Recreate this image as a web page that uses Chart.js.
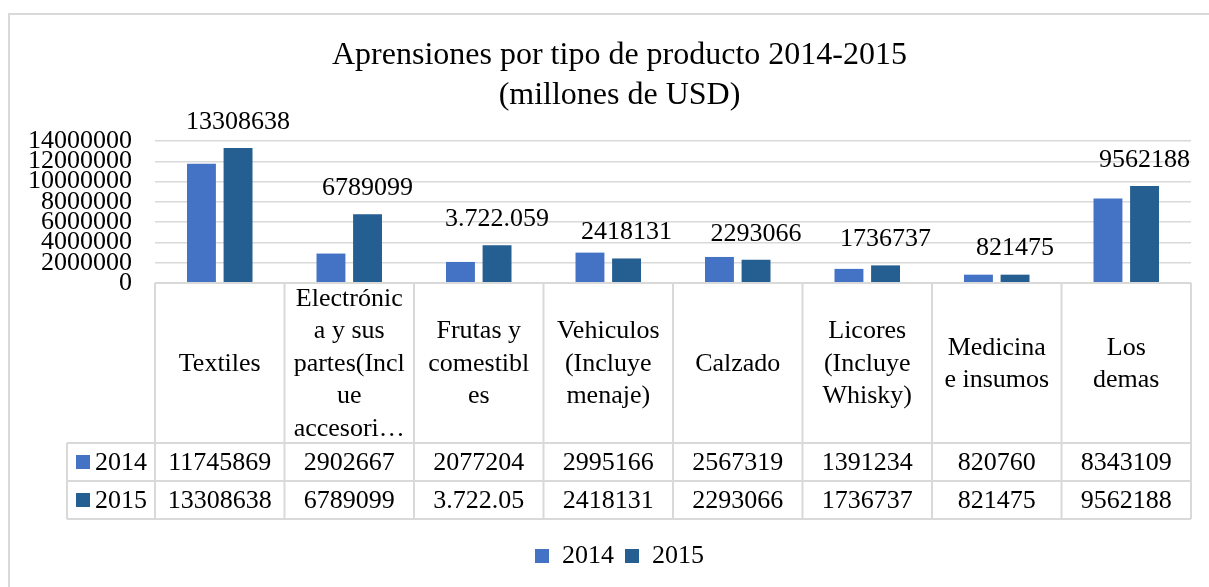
<!DOCTYPE html>
<html>
<head>
<meta charset="utf-8">
<script src="https://cdn.jsdelivr.net/npm/chart.js@4/dist/chart.umd.min.js"></script>
<style>
  html, body { margin: 0; padding: 0; background: #ffffff; }
  canvas { display: block; }
</style>
</head>
<body>
<canvas id="c" width="1209" height="587"></canvas>
<script>
// ---- Data ----
const categories = [
  ["Textiles"],
  ["Electrónic", "a y sus", "partes(Incl", "ue", "accesori…"],
  ["Frutas y", "comestibl", "es"],
  ["Vehiculos", "(Incluye", "menaje)"],
  ["Calzado"],
  ["Licores", "(Incluye", "Whisky)"],
  ["Medicina", "e insumos"],
  ["Los", "demas"]
];
const seriesNames = ["2014", "2015"];
const values2014 = [11745869, 2902667, 2077204, 2995166, 2567319, 1391234, 820760, 8343109];
const values2015 = [13308638, 6789099, 3722059, 2418131, 2293066, 1736737, 821475, 9562188];
const dataLabels2015 = ["13308638", "6789099", "3.722.059", "2418131", "2293066", "1736737", "821475", "9562188"];
const tableText2014 = ["11745869", "2902667", "2077204", "2995166", "2567319", "1391234", "820760", "8343109"];
const tableText2015 = ["13308638", "6789099", "3.722.05", "2418131", "2293066", "1736737", "821475", "9562188"];
const yMin = 0, yMax = 14000000, yStep = 2000000;
const titleLines = ["Aprensiones por tipo de producto 2014-2015", "(millones de USD)"];
const colors = ["#4472C4", "#255E91"];

const FONT = "'Liberation Serif', 'Times New Roman', serif";
const GRID = "#d9d9d9";

const excelTable = {
  id: "excelTable",
  beforeDraw(chart) {
    const ctx = chart.ctx;
    ctx.save();
    ctx.strokeStyle = GRID;
    ctx.lineWidth = 2;
    ctx.beginPath();
    ctx.moveTo(9, chart.height + 2);
    ctx.lineTo(9, 14);
    ctx.lineTo(chart.width + 2, 14);
    ctx.stroke();
    ctx.restore();
  },
  afterDatasetsDraw(chart) {
    const ctx = chart.ctx;
    const meta = chart.getDatasetMeta(1);
    ctx.save();
    ctx.font = "26px " + FONT;
    ctx.fillStyle = "#000";
    ctx.textAlign = "center";
    ctx.textBaseline = "middle";
    meta.data.forEach((bar, i) => {
      ctx.fillText(dataLabels2015[i], bar.x, bar.y - 26);
    });
    ctx.restore();
  },
  afterDraw(chart) {
    const ctx = chart.ctx;
    const xs = chart.scales.x;
    const n = categories.length;
    const colW = (xs.right - xs.left) / n;
    const top = chart.chartArea.bottom;
    const headBottom = top + 160;
    const r1Bottom = headBottom + 38;
    const r2Bottom = r1Bottom + 38;
    const rowLeft = 67;
    const left = xs.left, right = xs.right;

    ctx.save();
    ctx.strokeStyle = GRID;
    ctx.lineWidth = 2;
    ctx.beginPath();
    ctx.moveTo(left, top); ctx.lineTo(right, top);
    [headBottom, r1Bottom, r2Bottom].forEach(y => { ctx.moveTo(rowLeft, y); ctx.lineTo(right, y); });
    ctx.moveTo(rowLeft, headBottom); ctx.lineTo(rowLeft, r2Bottom);
    for (let i = 0; i <= n; i++) {
      const x = left + i * colW;
      ctx.moveTo(x, top); ctx.lineTo(x, r2Bottom);
    }
    ctx.stroke();

    ctx.fillStyle = "#000";
    ctx.font = "26px " + FONT;
    ctx.textAlign = "center";
    ctx.textBaseline = "middle";
    const lh = 32.5;
    const headMid = (top + headBottom) / 2 + 1;
    categories.forEach((lines, i) => {
      const cx = xs.getPixelForValue(i);
      const y0 = headMid - (lines.length - 1) * lh / 2;
      lines.forEach((t, k) => ctx.fillText(t, cx, y0 + k * lh));
      ctx.fillText(tableText2014[i], cx, (headBottom + r1Bottom) / 2 + 1);
      ctx.fillText(tableText2015[i], cx, (r1Bottom + r2Bottom) / 2 + 1);
    });

    // row headers
    const rows = [[headBottom, r1Bottom], [r1Bottom, r2Bottom]];
    rows.forEach((r, k) => {
      const cy = (r[0] + r[1]) / 2;
      ctx.fillStyle = colors[k];
      ctx.fillRect(76, cy - 7, 14, 14);
      ctx.fillStyle = "#000";
      ctx.textAlign = "left";
      ctx.fillText(seriesNames[k], 95, cy + 1);
    });
    ctx.restore();
  }
};

new Chart(document.getElementById("c"), {
  type: "bar",
  data: {
    labels: categories,
    datasets: [
      { label: seriesNames[0], data: values2014, backgroundColor: colors[0], borderWidth: 0,
        categoryPercentage: 0.565, barPercentage: 0.79 },
      { label: seriesNames[1], data: values2015, backgroundColor: colors[1], borderWidth: 0,
        categoryPercentage: 0.565, barPercentage: 0.79 }
    ]
  },
  options: {
    responsive: false,
    animation: false,
    devicePixelRatio: 1,
    layout: { padding: { left: 48, right: 18, top: 0, bottom: 8 } },
    plugins: {
      title: {
        display: true,
        text: titleLines,
        color: "#000",
        font: { family: FONT, size: 32, weight: "normal", lineHeight: 1.25 },
        padding: { top: 36, bottom: 25 }
      },
      legend: {
        position: "bottom",
        labels: {
          color: "#000",
          font: { family: FONT, size: 26 },
          boxWidth: 14,
          boxHeight: 14,
          padding: 11
        }
      },
      tooltip: { enabled: false }
    },
    scales: {
      x: {
        grid: { display: false },
        border: { display: false },
        ticks: { display: false },
        afterFit(scale) { scale.height = 249; }
      },
      y: {
        min: yMin,
        max: yMax,
        grid: { color: GRID, lineWidth: 1.5, drawTicks: false },
        border: { display: false },
        ticks: {
          stepSize: yStep,
          autoSkip: false,
          mirror: true,
          crossAlign: "far",
          padding: -127,
          color: "#000",
          font: { family: FONT, size: 26 },
          callback: (v) => String(v)
        },
        afterFit(scale) { scale.width = 107; }
      }
    }
  },
  plugins: [excelTable]
});
</script>
</body>
</html>
